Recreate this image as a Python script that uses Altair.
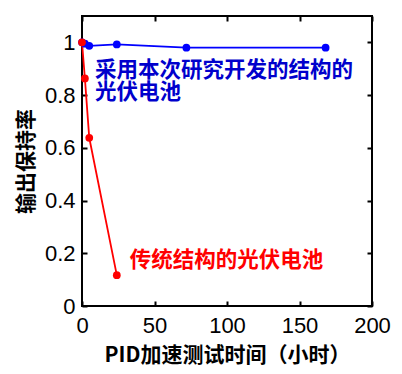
import altair as alt
import pandas as pd

# data
blue_x = [0, 2, 5, 24, 72, 168]
blue_y = [1.0, 0.995, 0.987, 0.992, 0.980, 0.980]
red_x = [0, 2, 5, 24]
red_y = [1.0, 0.863, 0.638, 0.117]
series_names = ["new", "old"]
series_colors = ["#0000ff", "#ff0000"]

x_ticks = [0, 50, 100, 150, 200]
y_ticks = [0, 0.2, 0.4, 0.6, 0.8, 1.0]

ann_text = ["采用本次研究开发的结构的\n光伏电池", "传统结构的光伏电池"]
ann_x = [9, 33]
ann_y = [0.932, 0.211]
ann_color = ["#0000cc", "#ff0000"]

df = pd.DataFrame({
    "x": blue_x + red_x,
    "y": blue_y + red_y,
    "s": [series_names[0]] * len(blue_x) + [series_names[1]] * len(red_x),
})
ann = pd.DataFrame({"x": ann_x, "y": ann_y, "t": ann_text, "c": ann_color})

xs = alt.Scale(domain=[0, 200], nice=False, zero=False)
ys = alt.Scale(domain=[0, 1.1], nice=False)
cs = alt.Scale(domain=series_names, range=series_colors)

CJK = "Noto Sans CJK SC"
NUM = "Liberation Sans"

x_axis = alt.Axis(values=x_ticks, offset=-5, domain=False, tickSize=5, tickWidth=2,
                  tickColor="black", labelFont=NUM, labelFontSize=22, labelColor="black",
                  labelPadding=9, labelOverlap=False, labelFlush=False,
                  title="PID加速测试时间（小时）", titleFont=CJK,
                  titleFontSize=21, titleFontWeight="bold", titleColor="black",
                  titlePadding=8, grid=False, format="d")
y_axis = alt.Axis(values=y_ticks, offset=-5, domain=False, tickSize=5, tickWidth=2,
                  tickColor="black", labelFont=NUM, labelFontSize=22, labelColor="black",
                  labelPadding=7, labelOverlap=False, labelFlush=False,
                  title="输出保持率", titleFont=CJK,
                  titleFontSize=21, titleFontWeight="bold", titleColor="black",
                  titlePadding=8, grid=False, format="~g")

lines = alt.Chart(df).mark_line(strokeWidth=1.8).encode(
    x=alt.X("x:Q", scale=xs, axis=x_axis),
    y=alt.Y("y:Q", scale=ys, axis=y_axis),
    color=alt.Color("s:N", scale=cs, legend=None),
    detail="s:N",
)

points = alt.Chart(df).mark_circle(size=60, opacity=1).encode(
    x=alt.X("x:Q", scale=xs, axis=None),
    y=alt.Y("y:Q", scale=ys, axis=None),
    color=alt.Color("s:N", scale=cs, legend=None),
)

texts = alt.Chart(ann).mark_text(align="left", baseline="top", font=CJK,
                                 fontSize=21.5, fontWeight="bold",
                                 lineBreak="\n", lineHeight=22).encode(
    x=alt.X("x:Q", scale=xs, axis=None),
    y=alt.Y("y:Q", scale=ys, axis=None),
    text="t:N",
    color=alt.Color("c:N", scale=None, legend=None),
)

mirror = alt.Chart(df).mark_point(opacity=0).encode(
    x=alt.X("x:Q", scale=xs, axis=alt.Axis(orient="top", values=x_ticks, offset=-5,
                                           domain=False, tickSize=5, tickWidth=2,
                                           tickColor="black", labels=False, title=None,
                                           grid=False)),
    y=alt.Y("y:Q", scale=ys, axis=alt.Axis(orient="right", values=y_ticks, offset=-5,
                                           domain=False, tickSize=5, tickWidth=2,
                                           tickColor="black", labels=False, title=None,
                                           grid=False)),
)

chart = alt.layer(lines, points, texts, mirror).resolve_axis(
    x="independent", y="independent"
).properties(
    width=290, height=290,
    autosize=alt.AutoSizeParams(type="none"),
    padding={"left": 74, "top": 8, "right": 20, "bottom": 70},
).configure_view(stroke="black", strokeWidth=2)

chart.save("out.html", embed_options={"renderer": "svg", "actions": False})
